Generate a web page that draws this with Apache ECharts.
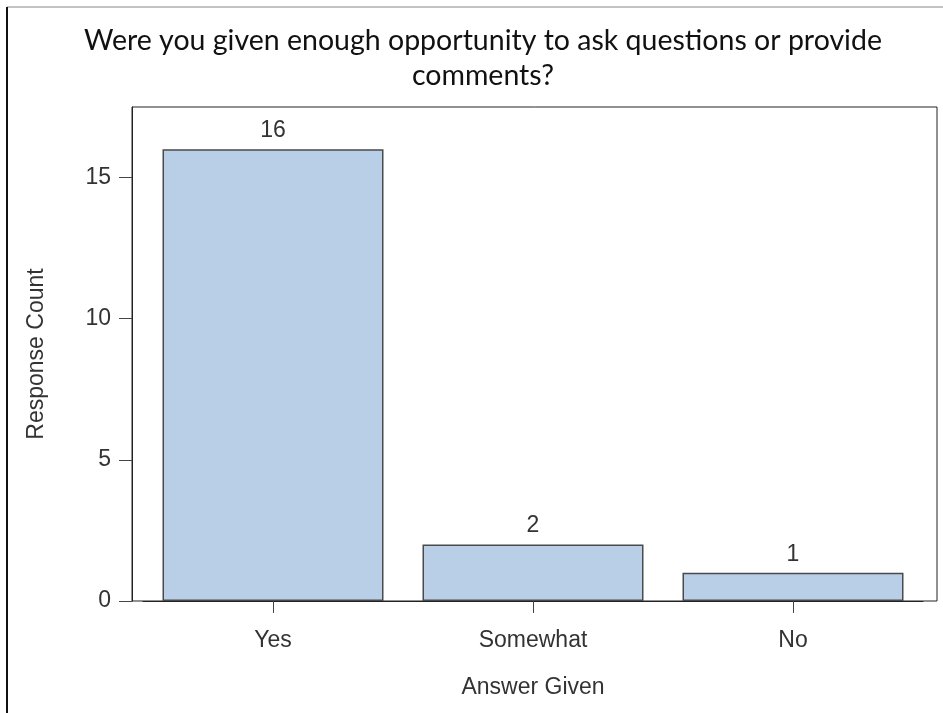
<!DOCTYPE html>
<html>
<head>
<meta charset="utf-8">
<script src="https://cdn.jsdelivr.net/npm/echarts@6/dist/echarts.min.js"></script>
<style>
  html, body { margin: 0; padding: 0; background: #fff; }
  #chart { width: 943px; height: 713px; }
</style>
</head>
<body>
<div id="chart"></div>
<script>
// Survey responses
const categories = ['Yes', 'Somewhat', 'No'];
const counts = [16, 2, 1];
const yTicks = [0, 5, 10, 15];

const titleText = 'Were you given enough opportunity to ask questions or provide\ncomments?';
const xName = 'Answer Given';
const yName = 'Response Count';

const labelFont = 'Arial, "Liberation Sans", sans-serif';
const labelSize = 23;
const textColor = '#333';

const chart = echarts.init(document.getElementById('chart'), null, { renderer: 'canvas' });

chart.setOption({
  animation: false,
  backgroundColor: '#fff',
  title: {
    text: titleText,
    left: 478,
    top: 18,
    textAlign: 'center',
    textStyle: {
      fontFamily: 'Lato, "Open Sans", sans-serif',
      fontSize: 28.5,
      fontWeight: 'normal',
      color: '#111',
      lineHeight: 35
    }
  },
  grid: [
    { left: 143, right: 20, top: 107, bottom: 112 },
    { left: 132, right: 6, top: 107, bottom: 112, show: true,
      borderColor: '#222', borderWidth: 1, backgroundColor: 'transparent' }
  ],
  xAxis: [
    {
      type: 'category',
      gridIndex: 0,
      data: categories,
      name: xName,
      nameLocation: 'middle',
      nameGap: 75,
      nameTextStyle: { fontFamily: labelFont, fontSize: labelSize, color: textColor },
      axisLine: { show: true, lineStyle: { color: '#222', width: 1 } },
      axisTick: { show: true, alignWithLabel: true, length: 12, lineStyle: { color: '#444' } },
      axisLabel: { margin: 28, fontFamily: labelFont, fontSize: labelSize, color: textColor }
    },
    { type: 'value', gridIndex: 1, show: false }
  ],
  yAxis: [
    {
      type: 'value',
      gridIndex: 0,
      min: 0,
      max: 17.5,
      interval: 5,
      offset: 11,
      name: yName,
      nameLocation: 'middle',
      nameGap: 84,
      nameTextStyle: { fontFamily: labelFont, fontSize: labelSize, color: textColor },
      axisLine: { show: true, lineStyle: { color: '#222', width: 1 } },
      axisTick: { show: true, length: 13, customValues: yTicks, lineStyle: { color: '#444' } },
      axisLabel: {
        margin: 21,
        fontFamily: labelFont,
        fontSize: labelSize,
        color: textColor,
        customValues: yTicks
      },
      splitLine: { show: false }
    },
    { type: 'value', gridIndex: 1, show: false }
  ],
  graphic: [
    { type: 'line', shape: { x1: 7, y1: 7, x2: 943, y2: 7 }, style: { stroke: '#888', lineWidth: 1 } },
    { type: 'line', shape: { x1: 7, y1: 7, x2: 7, y2: 713 }, style: { stroke: '#111', lineWidth: 2 } }
  ],
  series: [
    {
      type: 'bar',
      xAxisIndex: 0,
      yAxisIndex: 0,
      data: counts,
      barWidth: '85%',
      itemStyle: { color: '#B9CFE7', borderColor: '#4a4a4a', borderWidth: 1.5 },
      label: {
        show: true,
        position: 'top',
        distance: 7,
        fontFamily: labelFont,
        fontSize: labelSize,
        color: textColor
      }
    }
  ]
});
</script>
</body>
</html>
